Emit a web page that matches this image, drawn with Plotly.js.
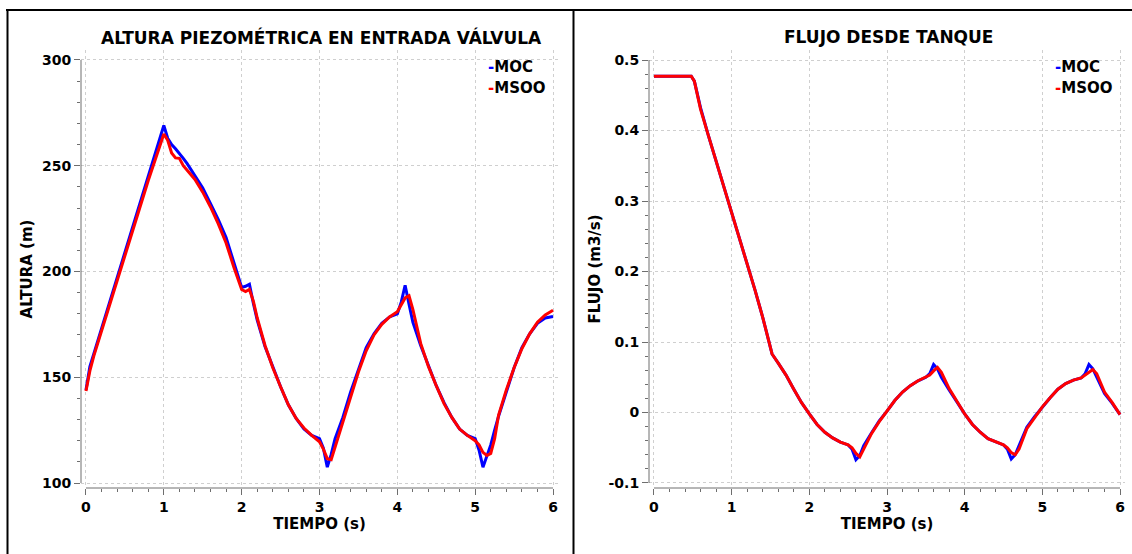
<!DOCTYPE html>
<html>
<head>
<meta charset="utf-8">
<script src="https://cdn.plot.ly/plotly-3.0.1.min.js"></script>
<style>html,body{margin:0;padding:0;background:#fff;}#chart{width:1132px;height:554px;}</style>
</head>
<body>
<div id="chart"></div>
<script>
// ---------- DATA ----------
const leftTitle = "ALTURA PIEZOMÉTRICA EN ENTRADA VÁLVULA";
const rightTitle = "FLUJO DESDE TANQUE";
const xTitle = "TIEMPO (s)";
const leftYTitle = "ALTURA (m)";
const rightYTitle = "FLUJO (m3/s)";
const seriesNames = ["MOC", "MSOO"];

const timeTicks = [0, 1, 2, 3, 4, 5, 6];
const timeTickLabels = ["0", "1", "2", "3", "4", "5", "6"];
const headTicks = [100, 150, 200, 250, 300];
const headTickLabels = ["100", "150", "200", "250", "300"];
const flowTicks = [-0.1, 0, 0.1, 0.2, 0.3, 0.4, 0.5];
const flowTickLabels = ["-0.1", "0", "0.1", "0.2", "0.3", "0.4", "0.5"];

// Left chart: head at valve inlet (m)
const headTime = [
  0,0.05,0.1,0.2,0.3,0.4,0.5,0.6,0.7,0.8,0.9,0.95,1.0,1.05,1.1,1.15,1.2,1.25,1.3,
  1.4,1.5,1.6,1.7,1.8,1.9,2.0,2.05,2.1,2.15,2.2,2.3,2.4,2.5,2.6,2.7,2.8,2.9,
  3.0,3.05,3.1,3.15,3.2,3.3,3.4,3.5,3.6,3.7,3.8,3.9,4.0,4.05,4.1,4.15,4.2,4.3,4.4,
  4.5,4.6,4.7,4.8,4.9,5.0,5.05,5.1,5.15,5.2,5.25,5.3,5.4,5.5,5.6,5.7,5.8,5.9,6.0
];
const headMOC = [
  144,155,161,173,185,197,209,221,233,245,257,263,269,263,260,258,256,253.5,251,
  245.5,239.5,232,224.5,216,204.5,192.5,193,194,185,177,164.5,154.5,145.5,137,130.5,125.5,122.5,
  121,116.5,107.5,113.5,121,131,143,153.5,164,170.5,175.5,178.5,180,185.5,193.5,184.5,176,165,155,
  146,138,131,125.5,122.5,121,115.5,107.5,113,118,125,131.5,143,154.5,164,170.5,175.5,178,178.7
];
const headMSOO = [
  143.5,153,160,172,184,196,208,220,231.5,243,254,259.5,265,262,256,253.7,253.5,250,248,
  243.5,237.5,230.5,222.5,213.5,202,191.5,190.5,191.5,186,178,165,154.5,145.5,137,130.5,126,122.5,
  119.5,116,111.5,111,117,129,141,152.5,162.5,170,175,178.5,181,184.5,187.5,188.5,182,166,155,
  146,137.5,131,125.5,122.5,120,118,114.5,113,114,121,132,144,154.5,163.5,170.5,176,179.5,181.7
];

// Right chart: flow from tank (m3/s)
const flowTime = [
  0,0.1,0.2,0.3,0.4,0.48,0.52,0.6,0.7,0.8,0.9,1.0,1.1,1.2,1.3,1.4,1.45,1.52,
  1.6,1.7,1.8,1.9,2.0,2.1,2.2,2.3,2.4,2.5,2.55,2.6,2.65,2.7,2.8,2.9,3.0,
  3.1,3.2,3.3,3.4,3.5,3.55,3.6,3.65,3.7,3.8,3.9,4.0,4.1,4.2,4.3,4.4,4.5,4.55,4.6,4.65,4.7,4.8,4.9,5.0,
  5.1,5.2,5.3,5.4,5.5,5.55,5.6,5.65,5.7,5.8,5.9,6.0
];
const flowMOC = [
  0.477,0.477,0.477,0.477,0.477,0.477,0.470,0.432,0.393,0.357,0.320,0.283,0.248,0.211,0.174,0.135,0.112,0.083,
  0.070,0.053,0.033,0.014,-0.002,-0.017,-0.028,-0.036,-0.042,-0.046,-0.052,-0.067,-0.061,-0.047,-0.029,-0.012,0.002,
  0.017,0.029,0.038,0.045,0.050,0.055,0.068,0.062,0.050,0.032,0.015,-0.002,-0.017,-0.028,-0.037,-0.042,-0.046,-0.052,-0.066,-0.060,-0.047,-0.021,-0.006,0.008,
  0.021,0.033,0.041,0.046,0.049,0.055,0.068,0.062,0.050,0.027,0.013,-0.003
];
const flowMSOO = [
  0.477,0.477,0.477,0.477,0.477,0.477,0.470,0.430,0.393,0.357,0.320,0.283,0.248,0.211,0.174,0.135,0.112,0.083,
  0.070,0.053,0.033,0.014,-0.002,-0.017,-0.028,-0.036,-0.042,-0.046,-0.050,-0.058,-0.063,-0.052,-0.030,-0.013,0.002,
  0.017,0.029,0.038,0.045,0.050,0.053,0.059,0.064,0.057,0.034,0.016,-0.002,-0.017,-0.028,-0.037,-0.042,-0.046,-0.050,-0.057,-0.060,-0.052,-0.023,-0.007,0.008,
  0.021,0.033,0.041,0.046,0.049,0.053,0.057,0.061,0.055,0.029,0.014,-0.003
];

// ---------- STYLE / LAYOUT ----------
const W = 1132, H = 554;
const fx = p => p / W;
const fy = p => 1 - p / H;
const FONT = "DejaVu Sans, Verdana, sans-serif";
const BLUE = "#0000ff", RED = "#ff0000";
const AXC = "#6e6e6e", GRIDC = "#cfcfcf";

const traces = [
  {x: headTime, y: headMOC, xaxis: "x", yaxis: "y", mode: "lines", name: seriesNames[0],
   line: {color: BLUE, width: 3}, showlegend: false},
  {x: headTime, y: headMSOO, xaxis: "x", yaxis: "y", mode: "lines", name: seriesNames[1],
   line: {color: RED, width: 3}, showlegend: false},
  {x: flowTime, y: flowMOC, xaxis: "x2", yaxis: "y2", mode: "lines", name: seriesNames[0],
   line: {color: BLUE, width: 3}, showlegend: false},
  {x: flowTime, y: flowMSOO, xaxis: "x2", yaxis: "y2", mode: "lines", name: seriesNames[1],
   line: {color: RED, width: 3}, showlegend: false}
];

const tickFont = {family: FONT, size: 14, color: "#000", weight: "bold"};
const titleFont = {family: FONT, size: 15, color: "#000", weight: "bold"};
const headFont = {family: FONT, size: 17, color: "#000", weight: "bold"};
const legFont = {family: FONT, size: 15, color: "#000", weight: "bold"};

function xAx(domain, anchor) {
  return {
    domain: domain, anchor: anchor, range: [-0.064, 6.064], fixedrange: true,
    tickmode: "array", tickvals: timeTicks, ticktext: timeTickLabels,
    ticks: "outside", ticklen: 6, tickwidth: 1, tickcolor: AXC,
    minor: {tick0: 0, dtick: 0.2, ticks: "outside", ticklen: 3, tickcolor: AXC, tickwidth: 1, showgrid: false},
    showgrid: true, gridcolor: GRIDC, griddash: "dot", gridwidth: 1,
    zeroline: false, showline: false, tickfont: tickFont,
    title: {text: xTitle, font: titleFont, standoff: 3}
  };
}
function yAx(domain, anchor, range, vals, labels, minorDt, title, standoff) {
  return {
    domain: domain, anchor: anchor, range: range, fixedrange: true,
    tickmode: "array", tickvals: vals, ticktext: labels,
    ticks: "outside", ticklen: 6, tickwidth: 1, tickcolor: AXC,
    minor: {tick0: 0, dtick: minorDt, ticks: "outside", ticklen: 3, tickcolor: AXC, tickwidth: 1, showgrid: false},
    showgrid: true, gridcolor: GRIDC, griddash: "dot", gridwidth: 1,
    zeroline: false, showline: false, tickfont: tickFont,
    title: {text: title, font: titleFont, standoff: standoff}
  };
}

function legendItem(xPx, yPx, color, name) {
  return {xref: "paper", yref: "paper", x: fx(xPx), y: fy(yPx), xanchor: "left", yanchor: "middle",
          showarrow: false, text: "<span style='color:" + color + "'>-</span>" + name, font: legFont};
}

const yDom = [fy(488), fy(50)];
const layout = {
  width: W, height: H, margin: {l: 0, r: 0, t: 0, b: 0},
  paper_bgcolor: "#fff", plot_bgcolor: "#fff", showlegend: false,
  xaxis: xAx([fx(81), fx(558)], "y"),
  yaxis: yAx(yDom, "x", [97.64, 304.7], headTicks, headTickLabels, 10, leftYTitle, 5),
  xaxis2: xAx([fx(649), fx(1125)], "y2"),
  yaxis2: yAx(yDom, "x2", [-0.1071, 0.5142], flowTicks, flowTickLabels, 0.02, rightYTitle, 4),
  shapes: [
    // outer frame
    {type: "line", xref: "paper", yref: "paper", x0: fx(6), x1: 1, y0: fy(10), y1: fy(10), line: {color: "#000", width: 2}},
    {type: "line", xref: "paper", yref: "paper", x0: fx(7.5), x1: fx(7.5), y0: fy(10), y1: 0, line: {color: "#000", width: 2}},
    {type: "line", xref: "paper", yref: "paper", x0: fx(573.5), x1: fx(573.5), y0: fy(10), y1: 0, line: {color: "#000", width: 2}},
    // axis lines spanning the tick range
    {type: "line", xref: "x", yref: "y domain", x0: 0, x1: 6, y0: 0, y1: 0, line: {color: AXC, width: 1}},
    {type: "line", xref: "x domain", yref: "y", x0: 0, x1: 0, y0: 100, y1: 300, line: {color: AXC, width: 1}},
    {type: "line", xref: "x2", yref: "y2 domain", x0: 0, x1: 6, y0: 0, y1: 0, line: {color: AXC, width: 1}},
    {type: "line", xref: "x2 domain", yref: "y2", x0: 0, x1: 0, y0: -0.1, y1: 0.5, line: {color: AXC, width: 1}}
  ],
  annotations: [
    {xref: "paper", yref: "paper", x: fx(321), y: fy(37), xanchor: "center", yanchor: "middle", showarrow: false,
     text: leftTitle, font: headFont},
    {xref: "paper", yref: "paper", x: fx(888), y: fy(37), xanchor: "center", yanchor: "middle", showarrow: false,
     text: rightTitle, font: headFont},
    legendItem(486, 67, BLUE, seriesNames[0]),
    legendItem(486, 88, RED, seriesNames[1]),
    legendItem(1053, 67, BLUE, seriesNames[0]),
    legendItem(1053, 88, RED, seriesNames[1])
  ]
};

Plotly.newPlot("chart", traces, layout, {displayModeBar: false, staticPlot: true});
</script>
</body>
</html>
